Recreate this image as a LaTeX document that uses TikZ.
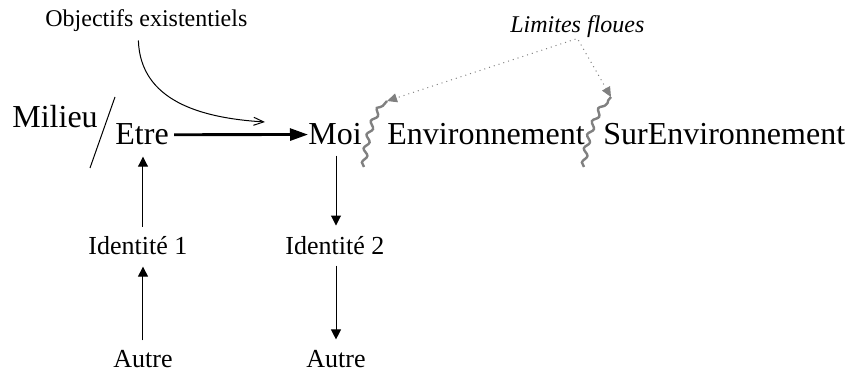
\documentclass[tikz,border=0pt]{standalone}
\usepackage{fontspec}
\setmainfont{Liberation Serif}
\usetikzlibrary{arrows.meta,decorations.pathmorphing}
\begin{document}
\begin{tikzpicture}[x=0.5pt,y=-0.5pt]
\tikzstyle{every node}+=[inner sep=0pt,anchor=base west]
\tikzstyle{grand}=[font=\fontsize{16}{19}\selectfont]
\tikzstyle{moyen}=[font=\fontsize{13}{16}\selectfont]
\tikzstyle{petit}=[font=\fontsize{12}{14}\selectfont]
\tikzstyle{fleche}=[line width=0.5pt,-{Triangle[length=5pt,width=5pt]},shorten <=5pt,shorten >=5.5pt]
\tikzstyle{flou}=[gray,line width=1.2pt,decorate,decoration={snake,amplitude=1.2pt,segment length=7pt}]
\tikzstyle{pointille}=[gray,dotted,line width=0.5pt,-{Triangle[length=5pt,width=4.5pt]},shorten <=1pt]
\useasboundingbox (0,0) rectangle (848,374);
\node[grand] (milieu) at (12,128) {Milieu};
\node[grand] (etre) at (115,145) {Etre};
\node[grand] (moi) at (308,145) {Moi};
\node[grand] (env) at (387,145) {Environnement};
\node[grand] (surenv) at (603,145) {SurEnvironnement};
\node[petit] (obj) at (45,27) {Objectifs existentiels};
\node[petit] (lim) at (510,33) {\itshape Limites floues};
\node[moyen] (id1) at (88,255) {Identité 1};
\node[moyen] (id2) at (285,255) {Identité 2};
\node[moyen] (autre1) at (113,368) {Autre};
\node[moyen] (autre2) at (306,368) {Autre};
\coordinate (cible) at (265,122);
\coordinate (flou1) at (387,101);
\coordinate (flou2) at (611,97);
\draw[line width=0.5pt] (115,97) -- (90,168);
\draw[line width=1.4pt,-{Triangle[length=9pt,width=6pt]},shorten <=2.5pt] (etre.east) -- (moi.west);
\draw[line width=0.5pt,-{Straight Barb[length=5pt,width=4pt]}] ([xshift=-4pt,yshift=-4pt]obj.south) .. controls +(2,60) and +(-65,-4) .. (cible);
\draw[fleche] (autre1.north) -- (autre1.north |- id1.south);
\draw[fleche] (id1.north -| autre1.north) -- (etre.south -| autre1.north);
\draw[fleche] (moi.south -| autre2.north) -- (id2.north -| autre2.north);
\draw[fleche] (id2.south -| autre2.north) -- (autre2.north);
\draw[flou] (364,167) .. controls (366,140) and (374,115) .. (flou1);
\draw[flou] (584,167) .. controls (586,140) and (596,115) .. (flou2);
\draw[pointille] (lim.south) -- (flou1);
\draw[pointille] (lim.south) -- (flou2);
\end{tikzpicture}
\end{document}
